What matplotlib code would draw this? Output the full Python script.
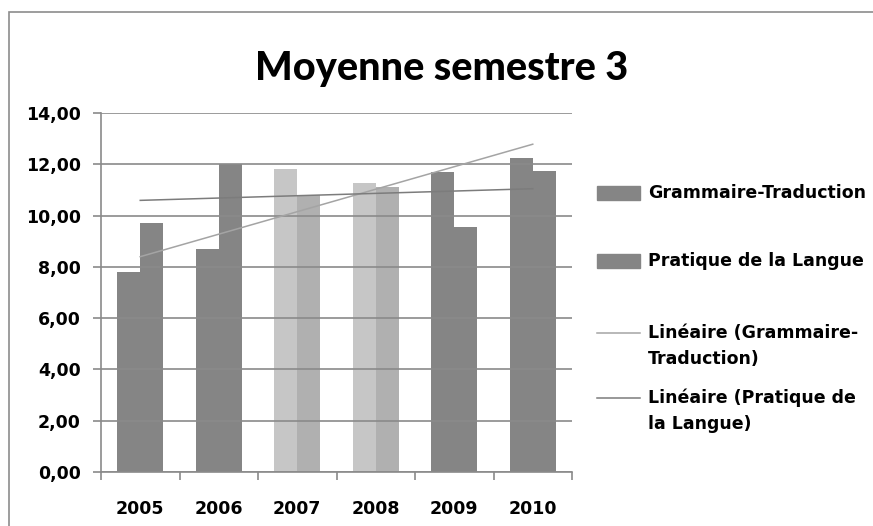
import numpy as np
import matplotlib
matplotlib.use("Agg")
import matplotlib.pyplot as plt
from matplotlib.patches import Rectangle
from matplotlib.lines import Line2D

# Data
years = ["2005", "2006", "2007", "2008", "2009", "2010"]
grammaire = [7.80, 8.70, 11.82, 11.27, 11.70, 12.25]
pratique = [9.71, 12.00, 10.80, 11.10, 9.56, 11.75]
gram_colors = ["#858585", "#858585", "#c6c6c6", "#c6c6c6", "#858585", "#858585"]
prat_colors = ["#858585", "#858585", "#b0b0b0", "#b0b0b0", "#858585", "#858585"]
y_ticks = [0, 2, 4, 6, 8, 10, 12, 14]
legend_labels = ["Grammaire-Traduction", "Pratique de la Langue",
                 "Linéaire (Grammaire-\nTraduction)", "Linéaire (Pratique de\nla Langue)"]

W, H = 873, 526
fig = plt.figure(figsize=(W / 100, H / 100), dpi=100)
ax = fig.add_axes([101 / W, 1 - 472 / H, 471 / W, 359 / H])

x = np.arange(len(years))
bw = 0.29
ax.bar(x - bw / 2, grammaire, bw, color=gram_colors, zorder=1)
ax.bar(x + bw / 2, pratique, bw, color=prat_colors, zorder=1)

# linear trend lines
for vals, col in [(grammaire, "#a4a4a4"), (pratique, "#7c7c7c")]:
    k, b = np.polyfit(x, vals, 1)
    ax.plot([x[0], x[-1]], [k * x[0] + b, k * x[-1] + b], color=col, lw=1.1, zorder=3)

ax.set_xlim(-0.5, len(years) - 0.5)
ax.set_ylim(0, 14)
ax.set_yticks(y_ticks, [f"{v:.2f}".replace(".", ",") for v in y_ticks])
ax.set_xticks(np.arange(-0.5, len(years)), [""] * (len(years) + 1))
ax.set_xticks(x, years, minor=True)

gray = "#8a8a8a"
ax.set_axisbelow(False)
ax.yaxis.grid(True, color=gray, lw=1.2)
for s in ["top", "right"]:
    ax.spines[s].set_visible(False)
for s in ["left", "bottom"]:
    ax.spines[s].set_color(gray)
    ax.spines[s].set_linewidth(1.2)

ax.tick_params(axis="y", length=6, width=1.2, color=gray, pad=8.5,
               labelsize=12.5)
ax.tick_params(axis="x", which="major", length=6, width=1.2, color=gray)
ax.tick_params(axis="x", which="minor", length=0, pad=20, labelsize=12.5)
for lab in ax.get_yticklabels() + ax.get_xticklabels(minor=True):
    lab.set_fontweight("bold")

fig.text(441.5 / W, 1 - 80 / H, "Moyenne semestre 3", ha="center",
         va="baseline", fontsize=28.5, fontweight="black", family="Lato")

# outer chart frame
fig.add_artist(Rectangle((8.5 / W, -0.1), 1.2, 1.1 - 11.5 / H,
                         transform=fig.transFigure, fill=False,
                         edgecolor="#8c8c8c", lw=1.2, clip_on=False))

# legend
rows = [193, 261, 333, 398]
kinds = [("patch", "#858585"), ("patch", "#858585"),
         ("line", "#a4a4a4"), ("line", "#7c7c7c")]
for yr, (kind, col), label in zip(rows, kinds, legend_labels):
    if kind == "patch":
        fig.add_artist(Rectangle((597 / W, 1 - (yr + 6.5) / H), 43 / W, 13 / H,
                                 transform=fig.transFigure, color=col))
    else:
        fig.add_artist(Line2D([597 / W, 640 / W], [1 - yr / H, 1 - yr / H],
                              transform=fig.transFigure, color=col, lw=1.1))
    for i, line in enumerate(label.split("\n")):
        fig.text(648 / W, 1 - (yr + 26 * i) / H, line, va="center",
                 ha="left", fontsize=12.5, fontweight="bold")

fig.savefig("out.png", dpi=100)
